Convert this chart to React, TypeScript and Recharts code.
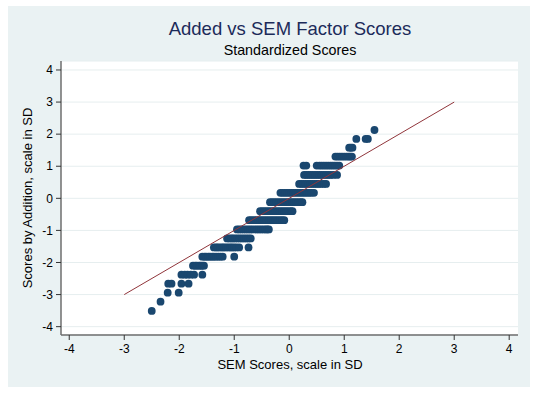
import React from "react";
import { ScatterChart, Scatter, XAxis, YAxis, CartesianGrid } from "recharts";

// score levels of the summed scale (one row of dots per level)
const additionLevels = [-3.51, -3.22, -2.94, -2.66, -2.38, -2.1, -1.82, -1.53, -1.25, -0.97, -0.68, -0.4, -0.12, 0.17, 0.45, 0.73, 1.02, 1.3, 1.58, 1.85, 2.13];

// SEM scores observed at each level above
const semByLevel = [
    [-2.5],
    [-2.34],
    [-2.21, -2.01],
    [-2.2, -2.14, -1.96, -1.83],
    [-1.96, -1.9, -1.85, -1.79, -1.73, -1.58],
    [-1.75, -1.71, -1.68, -1.64, -1.61, -1.58, -1.55],
    [-1.58, -1.54, -1.51, -1.47, -1.44, -1.4, -1.37, -1.33, -1.29, -1.25, -1.21, -1.0],
    [-1.37, -1.33, -1.3, -1.26, -1.22, -1.19, -1.15, -1.11, -1.07, -1.04, -1.0, -0.96, -0.91, -0.74],
    [-1.13, -1.09, -1.05, -1.02, -0.98, -0.94, -0.9, -0.86, -0.82, -0.78, -0.74, -0.7],
    [-0.95, -0.91, -0.87, -0.83, -0.79, -0.75, -0.71, -0.67, -0.63, -0.59, -0.55, -0.51, -0.47, -0.43, -0.4, -0.37],
    [-0.73, -0.69, -0.65, -0.61, -0.57, -0.53, -0.49, -0.45, -0.41, -0.37, -0.33, -0.29, -0.25, -0.21, -0.17, -0.13, -0.09],
    [-0.53, -0.49, -0.45, -0.41, -0.37, -0.33, -0.29, -0.25, -0.21, -0.17, -0.13, -0.09, -0.05, -0.01, 0.03, 0.06],
    [-0.35, -0.31, -0.27, -0.23, -0.19, -0.15, -0.11, -0.07, -0.03, 0.01, 0.05, 0.09, 0.13, 0.17, 0.21, 0.24],
    [-0.16, -0.12, -0.08, -0.04, 0.0, 0.04, 0.08, 0.12, 0.16, 0.2, 0.24, 0.28, 0.32, 0.36, 0.4, 0.45],
    [0.18, 0.22, 0.26, 0.3, 0.34, 0.38, 0.42, 0.46, 0.5, 0.54, 0.58, 0.63, 0.67],
    [0.27, 0.31, 0.35, 0.39, 0.43, 0.47, 0.51, 0.55, 0.59, 0.63, 0.67, 0.71, 0.75, 0.8, 0.87],
    [0.26, 0.31, 0.5, 0.55, 0.59, 0.63, 0.67, 0.71, 0.75, 0.79, 0.83, 0.87, 0.91],
    [0.84, 0.88, 0.92, 0.96, 1.0, 1.04, 1.08, 1.11, 1.14],
    [1.09, 1.12, 1.15],
    [1.22, 1.39, 1.43],
    [1.55],
];

// 45 degree reference line
const refLine = [
    { x: -3, y: -3 },
    { x: 3, y: 3 },
];

const axisTicks = [-4, -3, -2, -1, 0, 1, 2, 3, 4];

const points = additionLevels.flatMap((y, i) => semByLevel[i].map((x) => ({ x, y })));

const FONT = "'Liberation Sans', Arial, sans-serif";
const W = 522;
const H = 381;

const Dot = (props: any) => <circle cx={props.cx} cy={props.cy} r={3.9} fill="#1a476f" />;

export default function App() {
    return (
        <div style={{ position: "absolute", left: 8, top: 6, width: W, height: H, background: "#eaf2f3" }}>
            <ScatterChart width={W} height={H} margin={{ top: 55, right: 12, bottom: 0, left: 0 }}>
                <CartesianGrid vertical={false} fill="#ffffff" stroke="#e6eeef" />
                <XAxis
                    type="number"
                    dataKey="x"
                    domain={[-4.15, 4.16]}
                    ticks={axisTicks}
                    allowDataOverflow
                    height={52}
                    tickSize={5}
                    tickMargin={4}
                    axisLine={{ stroke: "#6e6e6e", strokeWidth: 1.5 }}
                    tickLine={{ stroke: "#333" }}
                    tick={{ fontSize: 12, fill: "#000", fontFamily: FONT }}
                />
                <YAxis
                    type="number"
                    dataKey="y"
                    domain={[-4.26, 4.28]}
                    ticks={axisTicks}
                    allowDataOverflow
                    width={53}
                    tickSize={5}
                    tickMargin={3}
                    axisLine={{ stroke: "#6e6e6e", strokeWidth: 1.5 }}
                    tickLine={{ stroke: "#333" }}
                    tick={{ fontSize: 12, fill: "#000", fontFamily: FONT }}
                />
                <Scatter data={points} shape={Dot} isAnimationActive={false} />
                <Scatter
                    data={refLine}
                    line={{ stroke: "#90353b", strokeWidth: 1 }}
                    shape={() => <g />}
                    isAnimationActive={false}
                />
            </ScatterChart>

            {/* titles */}
            <svg width={W} height={H} style={{ position: "absolute", left: 0, top: 0, pointerEvents: "none" }}>
                <text x={282} y={28.5} textAnchor="middle" fontSize={18.5} fill="#1c2b5a" fontFamily={FONT}>
                    Added vs SEM Factor Scores
                </text>
                <text x={282} y={49} textAnchor="middle" fontSize={14.3} fill="#000" fontFamily={FONT}>
                    Standardized Scores
                </text>
                <text x={282} y={363} textAnchor="middle" fontSize={13} fill="#000" fontFamily={FONT}>
                    SEM Scores, scale in SD
                </text>
                <text
                    x={24}
                    y={192}
                    textAnchor="middle"
                    fontSize={13}
                    fill="#000"
                    fontFamily={FONT}
                    transform="rotate(-90, 24, 192)"
                >
                    Scores by Addition, scale in SD
                </text>
            </svg>
        </div>
    );
}
